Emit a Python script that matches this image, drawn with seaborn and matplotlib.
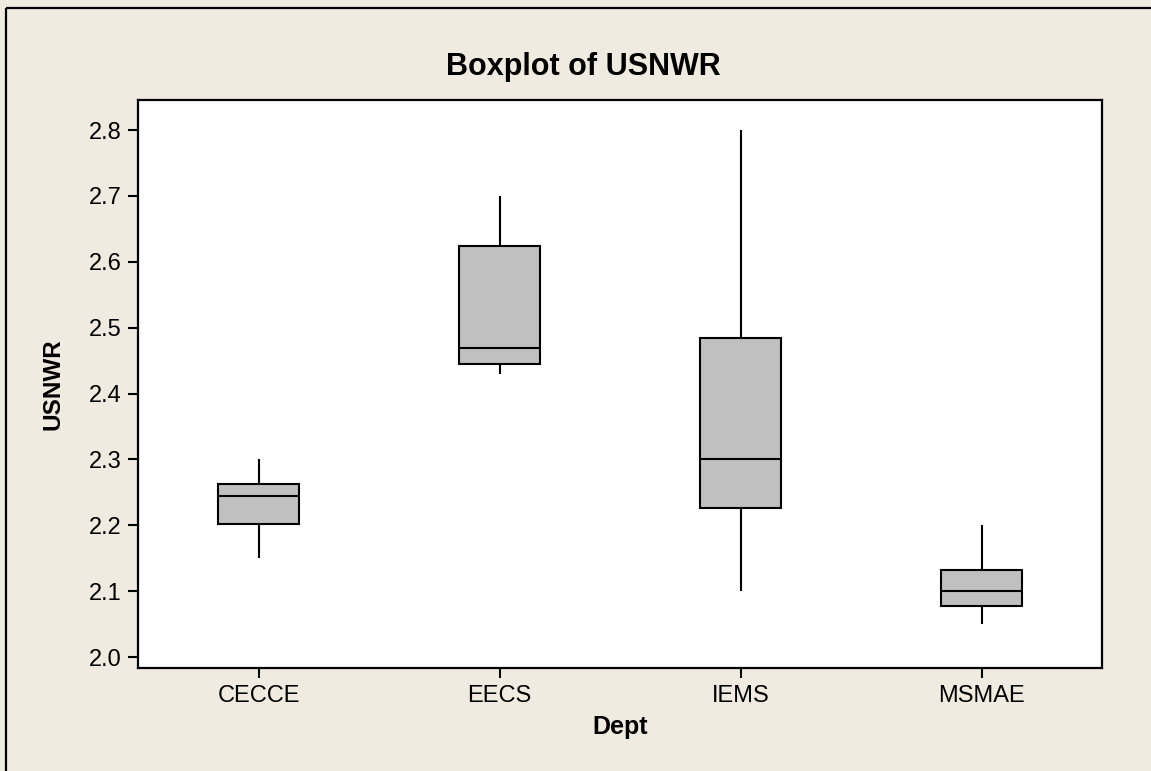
import matplotlib
matplotlib.use("Agg")
import matplotlib.pyplot as plt
import matplotlib.lines as mlines
import pandas as pd
import seaborn as sns

# five-number summary per department
depts = ["CECCE", "EECS", "IEMS", "MSMAE"]
lows = [2.15, 2.43, 2.10, 2.05]
q1s = [2.202, 2.445, 2.227, 2.078]
medians = [2.245, 2.469, 2.300, 2.100]
q3s = [2.263, 2.624, 2.484, 2.132]
highs = [2.30, 2.70, 2.80, 2.20]
yticks = [2.0, 2.1, 2.2, 2.3, 2.4, 2.5, 2.6, 2.7, 2.8]

bg = "#EFEBE1"

# long table: with 5 points, linear quartiles fall exactly on q1/median/q3
rows = []
for d, a, b, c, e, f in zip(depts, lows, q1s, medians, q3s, highs):
    for v in (a, b, c, e, f):
        rows.append({"Dept": d, "USNWR": v})
df = pd.DataFrame(rows)

sns.set_style("white")
plt.rcParams["font.family"] = ["Liberation Sans", "DejaVu Sans"]
plt.rcParams["text.color"] = "black"
plt.rcParams["axes.labelcolor"] = "black"

# small extra so the float product does not round down a pixel
fig = plt.figure(figsize=(11.513, 7.713), dpi=100, facecolor=bg)
fig.patch.set_linewidth(0)
ax = fig.add_axes([138 / 1151, 1 - 668 / 771, 964 / 1151, 568 / 771])
ax.set_facecolor("white")

sns.boxplot(data=df, x="Dept", y="USNWR", order=depts, ax=ax,
            color="#C0C0C0", saturation=1, linecolor="black", linewidth=1.5,
            width=0.334, whis=(0, 100), showcaps=False, fliersize=0)

ax.set_xlim(-0.5, 3.5)
ax.set_ylim(1.9838, 2.8455)
ax.set_yticks(yticks)
ax.set_yticklabels([f"{t:.1f}" for t in yticks])

for s in ax.spines.values():
    s.set_visible(True)
    s.set_color("black")
    s.set_linewidth(1.6)

ax.tick_params(axis="both", which="major", direction="out", length=7, width=1.5,
               color="black", labelsize=17, labelcolor="black", pad=5,
               left=True, bottom=True)

ax.set_xlabel("Dept", fontsize=18, fontweight="bold", color="black")
ax.set_ylabel("USNWR", fontsize=17.5, fontweight="bold", color="black")
ax.xaxis.set_label_coords(0.5, -0.083)
ax.yaxis.set_label_coords(-0.076, 0.5)

fig.text(583 / 1151, 1 - 75 / 771, "Boxplot of USNWR", ha="center", va="baseline",
         fontsize=22, fontweight="bold", color="black")

# outer frame: only top and left edges show
top = 1 - 8 / 771
left = 6 / 1151
fig.add_artist(mlines.Line2D([left, 1.0], [top, top], transform=fig.transFigure,
                             color="black", linewidth=1.6, solid_capstyle="butt"))
fig.add_artist(mlines.Line2D([left, left], [0.0, top], transform=fig.transFigure,
                             color="black", linewidth=1.6, solid_capstyle="butt"))

fig.savefig("out.png", dpi=100, facecolor=bg)
